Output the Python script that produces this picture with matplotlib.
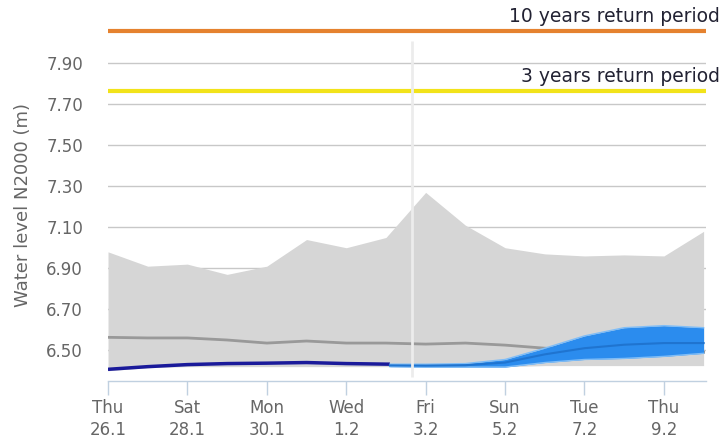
import matplotlib
matplotlib.use("Agg")
import matplotlib.pyplot as plt

# days since Thu 26.1 00:00
days = [0, 1, 2, 3, 4, 5, 6, 7, 8, 9, 10, 11, 12, 13, 14, 15]

# historical range (gray envelope) and its median
env_upper = [6.98, 6.91, 6.92, 6.87, 6.91, 7.04, 7.00, 7.05, 7.27, 7.11, 7.00, 6.97, 6.96, 6.965, 6.96, 7.08]
env_lower = [6.40, 6.415, 6.42, 6.42, 6.42, 6.42, 6.42, 6.42, 6.42, 6.42, 6.42, 6.425, 6.425, 6.425, 6.425, 6.425]
env_median = [6.563, 6.56, 6.56, 6.55, 6.535, 6.545, 6.535, 6.535, 6.53, 6.535, 6.525, 6.51, 6.50, 6.495, 6.49, 6.49]

# observed water level
obs_days = [0, 1, 2, 3, 4, 5, 6, 7.1]
obs_level = [6.407, 6.42, 6.43, 6.435, 6.437, 6.44, 6.435, 6.432]

# forecast band
fc_days = [7.1, 8, 9, 10, 11, 12, 13, 14, 15]
fc_upper = [6.432, 6.432, 6.435, 6.455, 6.51, 6.57, 6.61, 6.62, 6.61]
fc_lower = [6.42, 6.418, 6.418, 6.418, 6.44, 6.455, 6.46, 6.47, 6.485]
fc_median = [6.426, 6.425, 6.427, 6.44, 6.48, 6.51, 6.527, 6.535, 6.535]

now_day = 7.66
rp10 = 8.056
rp3 = 7.763

tick_days = [0, 2, 4, 6, 8, 10, 12, 14]
tick_labels = ["Thu\n26.1", "Sat\n28.1", "Mon\n30.1", "Wed\n1.2",
               "Fri\n3.2", "Sun\n5.2", "Tue\n7.2", "Thu\n9.2"]
y_ticks = [6.50, 6.70, 6.90, 7.10, 7.30, 7.50, 7.70, 7.90]

fig = plt.figure(figsize=(7.24, 4.43), dpi=100)
ax = fig.add_axes([108 / 724, 1 - 381 / 443, 598 / 724, 367 / 443])

ax.set_xlim(0, 15.06)
ax.set_ylim(6.35, 8.14)

for yv in y_ticks:
    ax.axhline(yv, color="#c8c8c8", lw=1, zorder=1)

ax.fill_between(days, env_lower, env_upper, color="#d6d6d6", lw=0, zorder=2)
ax.plot(days, env_median, color="#999999", lw=2, zorder=3)
ax.plot(obs_days, obs_level, color="#1a1a9a", lw=2.5, zorder=4,
        solid_capstyle="butt")
ax.fill_between(fc_days, fc_lower, fc_upper, color="#2b8cee", lw=0, zorder=4)
ax.plot(fc_days, fc_upper, color="#7fbdf7", lw=1, zorder=4)
ax.plot(fc_days, fc_lower, color="#7fbdf7", lw=1, zorder=4)
ax.plot(fc_days, fc_median, color="#1f74d0", lw=1.5, zorder=5)

# "now" marker, from the bottom up to just under the 10-year line
ax.vlines(now_day, 6.37, rp10 - 0.05, color="#ececec", lw=2, zorder=6)

ax.axhline(rp10, color="#e5822f", lw=3, zorder=5)
ax.axhline(rp3, color="#f2e31a", lw=3, zorder=5)
ax.annotate("10 years return period", xy=(1, rp10),
            xycoords=("axes fraction", "data"), xytext=(10, 4),
            textcoords="offset points", ha="right", va="bottom",
            fontsize=13.5, color="#222233", annotation_clip=False)
ax.annotate("3 years return period", xy=(1, rp3),
            xycoords=("axes fraction", "data"), xytext=(10, 4),
            textcoords="offset points", ha="right", va="bottom",
            fontsize=13.5, color="#222233", annotation_clip=False)

ax.set_yticks(y_ticks)
ax.set_yticklabels(["%.2f" % v for v in y_ticks])
ax.set_xticks(tick_days)
ax.set_xticklabels(tick_labels, linespacing=1.3)
ax.tick_params(axis="y", length=0, pad=18, labelsize=12, labelcolor="#666666")
ax.tick_params(axis="x", length=10, width=1, color="#c0d0e0", pad=3,
               labelsize=12, labelcolor="#666666")

for side in ["top", "right", "left"]:
    ax.spines[side].set_visible(False)
ax.spines["bottom"].set_color("#c0d0e0")
ax.spines["bottom"].set_linewidth(1)

fig.text(23 / 724, 1 - 205 / 443, "Water level N2000 (m)", rotation=90,
         ha="center", va="center", fontsize=13, color="#666666")

fig.savefig("out.png", dpi=100)
